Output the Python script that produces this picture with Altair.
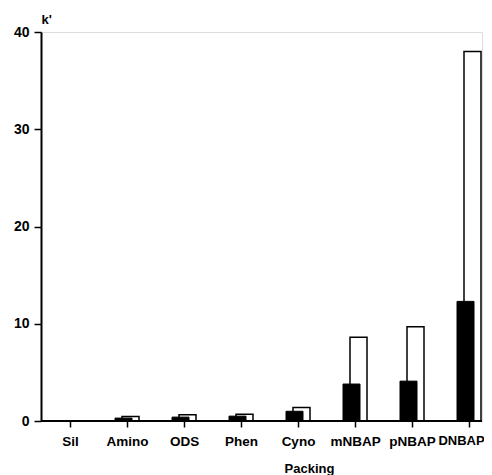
import altair as alt
import pandas as pd

categories = ["Sil", "Amino", "ODS", "Phen", "Cyno", "mNBAP", "pNBAP", "DNBAP"]
filled_values = [0.0, 0.3, 0.4, 0.5, 1.0, 3.8, 4.1, 12.3]
open_values = [0.0, 0.45, 0.65, 0.7, 1.4, 8.6, 9.7, 38.0]
y_ticks = [0, 10, 20, 30, 40]

df = pd.DataFrame({"Packing": categories, "filled": filled_values, "open": open_values})

FONT = "Liberation Sans"
W, H = 441, 389

xscale = alt.Scale(type="point", domain=categories, range=[29, 428], padding=0)
yscale = alt.Scale(domain=[0, 40], nice=False)

last_test = "datum.value == 'DNBAP'"
xaxis = alt.Axis(
    title="Packing", domain=False, ticks=True, tickSize=6, tickWidth=1.5,
    tickColor="black", labelAngle=0, labelFont=FONT,
    labelFontSize={"condition": {"test": last_test, "value": 13}, "value": 13.5},
    labelOffset={"condition": {"test": last_test, "value": -8}, "value": 0},
    labelFontWeight="bold", labelColor="black", labelPadding=7,
    titleFont=FONT, titleFontSize=13, titleFontWeight="bold", titleColor="black",
    titlePadding=15, titleX=268,
)
yaxis = alt.Axis(
    title="k'", values=y_ticks, grid=False, domainColor="black", domainWidth=2,
    tickColor="black", tickSize=7, tickWidth=1.5, labelFont=FONT, labelFontSize=14,
    labelFontWeight="bold", labelColor="black", labelPadding=5,
    titleFont=FONT, titleFontSize=13, titleFontWeight="bold", titleColor="black",
    titleAngle=0, titleAlign="left", titleBaseline="alphabetic", titleX=0, titleY=-9,
)

base = alt.Chart(df)

open_bars = base.mark_bar(
    size=17, xOffset=3.5, fill="white", stroke="black", strokeWidth=1.5
).encode(
    x=alt.X("Packing:N", scale=xscale, axis=xaxis, sort=categories),
    y=alt.Y("open:Q", scale=yscale, axis=yaxis),
)

filled_bars = base.mark_bar(
    size=17, xOffset=-3.5, fill="black", stroke="black", strokeWidth=1
).encode(
    x=alt.X("Packing:N", scale=xscale, sort=categories),
    y=alt.Y("filled:Q", scale=yscale),
)

baseline = alt.Chart(pd.DataFrame({"z": [0]})).mark_rule(
    color="black", strokeWidth=2
).encode(
    x=alt.value(0), x2=alt.value(W), y=alt.Y("z:Q", scale=yscale)
)

chart = alt.layer(open_bars, filled_bars, baseline).properties(
    width=W, height=H,
    autosize=alt.AutoSizeParams(type="none"),
    padding={"left": 33, "top": 24, "right": 2, "bottom": 54},
).configure_view(stroke=None).configure(background="white")

chart.save("out.html", embed_options={"renderer": "svg", "actions": False})
